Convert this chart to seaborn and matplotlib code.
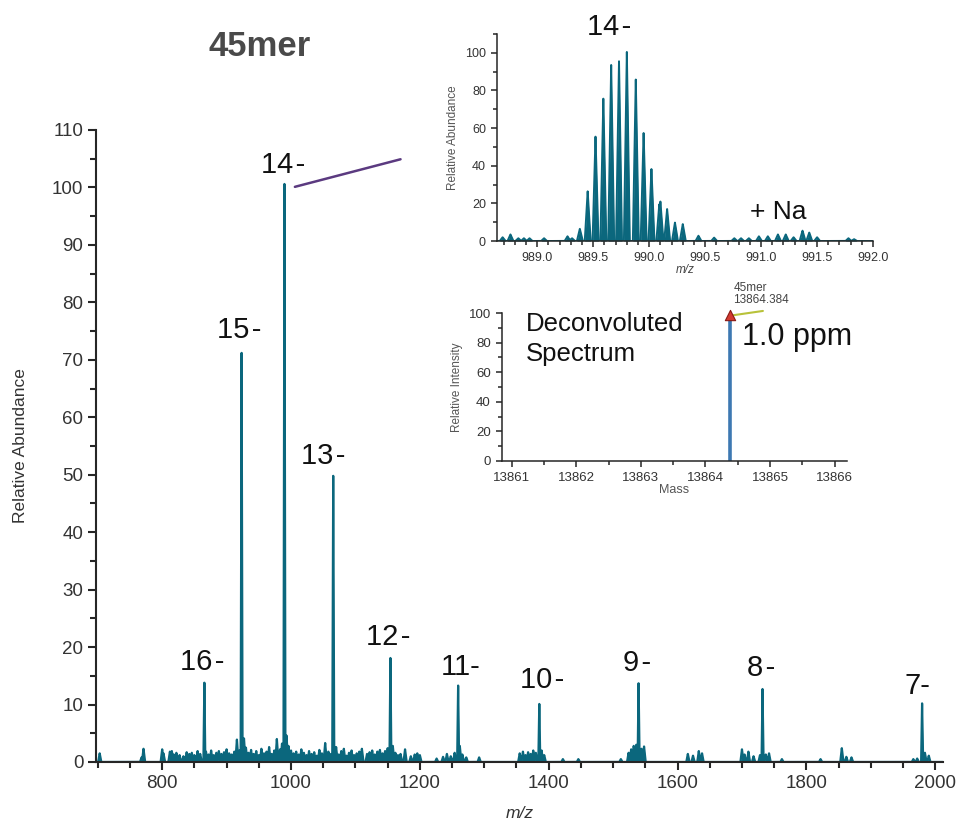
import numpy as np
import matplotlib
matplotlib.use('Agg')
import matplotlib.pyplot as plt
import seaborn as sns
from matplotlib.ticker import MultipleLocator, FormatStrFormatter

## main spectrum: charge-state peaks
charge_labels = ['16\u200a-', '15\u200a-', '14\u200a-', '13\u200a-', '12\u200a-', '11-',
                 '10\u200a-', '9\u200a-', '8\u200a-', '7-']
charge_mz = [865.5, 923.3, 989.8, 1065.5, 1154.3, 1259.4, 1385.4, 1539.5, 1731.9, 1979.6]
charge_ab = [13.8, 71.2, 100.6, 49.8, 18.1, 13.3, 10.1, 13.7, 12.7, 10.2]
## label anchors (left edge, vertical centre) in m/z, abundance
label_x = [828, 885, 953, 1015, 1116, 1233, 1355, 1516, 1708, 1952]
label_y = [17.4, 75.2, 103.9, 53.3, 21.8, 16.5, 14.3, 17.2, 16.4, 13.2]

## baseline chemical noise
noise_mz = [703, 768, 771, 800, 802, 812, 815, 818, 822, 827, 833, 838, 842, 846,
            850, 855, 859, 868, 872, 876, 880, 884, 888, 892, 896, 900, 904, 908,
            912, 916, 920, 927, 930, 934, 938, 942, 946, 950, 954, 958, 962, 966,
            970, 974, 978, 983, 986, 993, 996, 1000, 1004, 1008, 1012, 1016, 1020,
            1024, 1028, 1032, 1036, 1040, 1044, 1048, 1053, 1058, 1062, 1070, 1074,
            1078, 1082, 1086, 1090, 1094, 1098, 1102, 1106, 1110, 1118, 1122, 1126,
            1130, 1134, 1138, 1142, 1146, 1150, 1158, 1162, 1166, 1170, 1177, 1186,
            1192, 1196, 1200, 1226, 1236, 1242, 1248, 1254, 1262, 1266, 1272, 1292,
            1355, 1360, 1364, 1368, 1372, 1376, 1380, 1389, 1393, 1422, 1446, 1512,
            1524, 1528, 1532, 1536, 1544, 1548, 1616, 1624, 1633, 1638, 1700, 1704,
            1710, 1718, 1728, 1737, 1742, 1762, 1822, 1855, 1862, 1870, 1966, 1972,
            1984, 1990]
noise_ab = [1.5, 0.8, 2.3, 2.2, 1.5, 1.8, 1.9, 1.3, 1.6, 1.2, 1.0, 1.7, 1.4, 1.6,
            1.2, 1.9, 1.4, 1.8, 1.3, 2.0, 1.2, 1.6, 1.9, 1.4, 1.7, 2.2, 1.5, 1.3,
            1.8, 3.9, 2.0, 4.1, 2.5, 1.6, 2.1, 1.4, 1.9, 1.2, 2.3, 1.5, 1.8, 2.6,
            1.4, 2.0, 4.0, 2.2, 3.2, 4.6, 2.8, 2.0, 1.5, 1.8, 1.3, 2.2, 1.6, 1.2,
            1.9, 1.4, 1.7, 1.1, 2.1, 1.5, 3.3, 1.8, 1.4, 2.6, 1.3, 1.9, 2.3, 1.1,
            1.6, 2.0, 1.2, 1.5, 1.8, 2.3, 1.4, 1.7, 2.0, 1.3, 1.8, 2.1, 1.5, 1.9,
            2.4, 2.8, 1.6, 1.2, 1.4, 2.2, 1.0, 1.3, 1.5, 1.2, 0.6, 0.9, 1.4, 1.0,
            1.6, 2.8, 1.3, 0.8, 0.8, 1.5, 1.8, 1.2, 1.7, 1.4, 2.0, 1.6, 2.0, 1.2,
            0.5, 0.5, 0.5, 1.6, 2.2, 2.8, 3.0, 2.3, 2.7, 1.4, 1.1, 1.9, 1.5, 2.2,
            1.3, 1.8, 1.0, 1.2, 1.3, 1.5, 0.5, 0.5, 2.4, 0.9, 0.8, 0.5, 0.6, 1.6,
            1.1]

## inset: isotope envelope of the 14- ion
iso_mz = [989.38, 989.45, 989.52, 989.59, 989.66, 989.73, 989.80, 989.88, 989.95,
          990.02, 990.09, 990.10, 990.16, 990.23, 990.30, 990.44, 990.58]
iso_ab = [6.5, 26.5, 55.7, 76.0, 94.0, 96.0, 101.0, 86.0, 57.5, 38.3, 19.5, 21.0,
          17.0, 9.8, 9.0, 2.8, 1.8]
iso_noise_mz = [988.69, 988.76, 988.83, 988.88, 988.93, 989.06, 989.27, 989.31,
                990.76, 990.82, 990.89, 990.98, 991.06, 991.15, 991.22, 991.29,
                991.37, 991.43, 991.50, 991.78, 991.83]
iso_noise_ab = [2.0, 3.5, 1.5, 1.5, 1.5, 1.5, 2.5, 1.5, 1.5, 1.5, 1.5, 2.5, 2.5,
                3.5, 3.5, 2.0, 5.5, 4.5, 2.0, 1.5, 1.0]

## deconvoluted result
deconv_mass = [13864.384]
deconv_int = [98.5]

teal = '#0b677d'


def profile(centres, heights, halfwidth, grid):
    """sum of narrow triangular peaks evaluated on grid (max where they overlap)"""
    y = np.zeros_like(grid)
    for c, h in zip(centres, heights):
        tri = h * np.clip(1 - np.abs(grid - c) / halfwidth, 0, None)
        y = np.maximum(y, tri)
    return y


def style_axis(ax, lw, major_len, minor_len, size):
    sns.despine(ax=ax)
    for s in ['left', 'bottom']:
        ax.spines[s].set_linewidth(lw)
    ax.tick_params(which='major', length=major_len, width=lw, labelsize=size,
                   labelcolor='#333333', direction='out')
    ax.tick_params(which='minor', length=minor_len, width=lw, direction='out')


sns.set_style('ticks')
plt.rcParams['font.family'] = ['Liberation Sans', 'DejaVu Sans']

fig = plt.figure(figsize=(9.58, 8.22), dpi=100)

## ---- main spectrum
ax = fig.add_axes([0.1007, 0.0730, 0.8836, 0.7689])
grid = np.linspace(698, 2012, 26281)
spec = np.maximum(profile(charge_mz, charge_ab, 1.5, grid),
                  profile(noise_mz, noise_ab, 2.4, grid))
ax.fill_between(grid, spec, color=teal, lw=0)
sns.lineplot(x=grid, y=spec, ax=ax, color=teal, lw=1.6, estimator=None, sort=False)
ax.set_xlim(698, 2012)
ax.set_ylim(0, 110)
ax.xaxis.set_major_locator(MultipleLocator(200))
ax.xaxis.set_minor_locator(MultipleLocator(50))
ax.yaxis.set_major_locator(MultipleLocator(10))
ax.yaxis.set_minor_locator(MultipleLocator(5))
style_axis(ax, 1.5, 6, 4, 13.5)
ax.set_xlabel('m/z', fontsize=12.5, style='italic', color='#333333', labelpad=10)
ax.set_ylabel('Relative Abundance', fontsize=12.5, color='#333333', labelpad=17)
for lab, lx, ly in zip(charge_labels, label_x, label_y):
    ax.text(lx, ly, lab, fontsize=21, ha='left', va='center', color='#111111')
ax.plot([1006, 1170], [100.1, 104.9], color='#5b3a80', lw=1.8, clip_on=False)
fig.text(260 / 958, 1 - 47 / 822, '45mer', fontsize=25, fontweight='bold',
         color='#4a4a4a', ha='center', va='center')

## ---- inset: zoom on 14-
ax1 = fig.add_axes([0.5188, 0.7068, 0.3925, 0.2518])
grid1 = np.linspace(988.64, 992.0, 12000)
spec1 = profile(iso_mz + iso_noise_mz, iso_ab + iso_noise_ab, 0.026, grid1)
ax1.fill_between(grid1, spec1, color=teal, lw=0)
sns.lineplot(x=grid1, y=spec1, ax=ax1, color=teal, lw=1.4, estimator=None, sort=False)
ax1.set_xlim(988.64, 992.0)
ax1.set_ylim(0, 110)
ax1.xaxis.set_major_locator(MultipleLocator(0.5))
ax1.xaxis.set_minor_locator(MultipleLocator(0.1))
ax1.xaxis.set_major_formatter(FormatStrFormatter('%.1f'))
ax1.yaxis.set_major_locator(MultipleLocator(20))
ax1.yaxis.set_minor_locator(MultipleLocator(10))
style_axis(ax1, 1.1, 4.5, 3, 9)
ax1.set_xlabel('m/z', fontsize=8.5, style='italic', color='#444444', labelpad=0)
ax1.set_ylabel('Relative Abundance', fontsize=8.5, color='#555555', labelpad=4)
ax1.text(989.64, 113.8, '14\u200a-', fontsize=21, ha='center', va='center',
         color='#111111', clip_on=False)
ax1.text(990.90, 15.4, '+ Na', fontsize=19, ha='left', va='center', color='#111111')

## ---- inset: deconvoluted spectrum
ax2 = fig.add_axes([0.524, 0.4392, 0.360, 0.180])
ax2.vlines(deconv_mass, 0, deconv_int, color='#3d78b2', lw=2.6)
sns.scatterplot(x=deconv_mass, y=deconv_int, ax=ax2, marker='^', s=55,
                color='#d23a30', edgecolor='#8a1a15', linewidth=0.8, clip_on=False,
                zorder=5)
ax2.set_xlim(13860.85, 13866.19)
ax2.set_ylim(0, 100)
ax2.xaxis.set_major_locator(MultipleLocator(1))
ax2.xaxis.set_minor_locator(MultipleLocator(0.5))
ax2.xaxis.set_major_formatter(FormatStrFormatter('%d'))
ax2.yaxis.set_major_locator(MultipleLocator(20))
ax2.yaxis.set_minor_locator(MultipleLocator(10))
style_axis(ax2, 1.1, 4.5, 3, 9.5)
ax2.set_xlabel('Mass', fontsize=9, color='#555555', labelpad=0)
ax2.set_ylabel('Relative Intensity', fontsize=8.5, color='#555555', labelpad=4)
ax2.plot([13864.43, 13864.89], [98.5, 101.4], color='#b8c23a', lw=1.5, clip_on=False)
ax2.text(13864.43, 121, '45mer\n13864.384', fontsize=8.5, ha='left', va='top',
         color='#444444', linespacing=1.0)
ax2.text(13861.22, 101, 'Deconvoluted\nSpectrum', fontsize=18.5, ha='left', va='top',
         color='#111111', linespacing=1.35)
ax2.text(13864.56, 83.8, '1.0 ppm', fontsize=22, ha='left', va='center',
         color='#111111')

fig.savefig('out.png', dpi=100)
